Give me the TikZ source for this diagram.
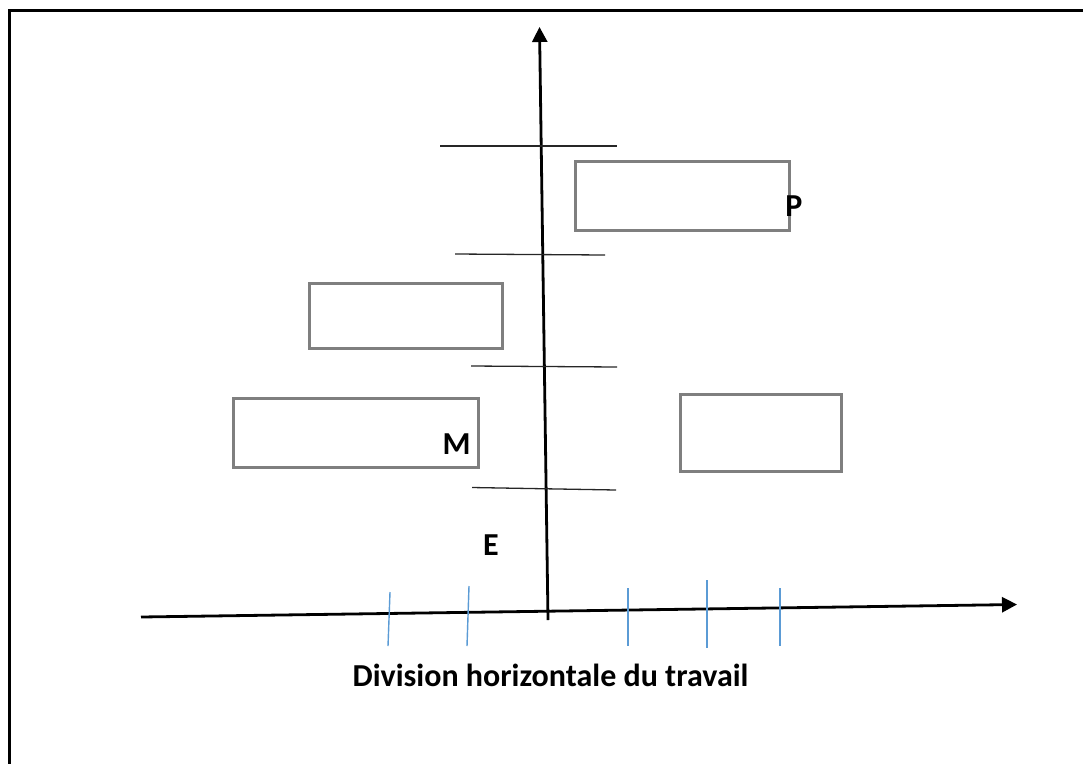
\documentclass[tikz,border=0pt]{standalone}
\usepackage{fontspec}
\setmainfont{Carlito}
\usetikzlibrary{arrows.meta}
\definecolor{boxgray}{HTML}{7F7F7F}
\definecolor{tickblue}{HTML}{5B9BD5}
\tikzset{
  axis/.style={line width=2.8pt, -{Triangle[length=15pt,width=15pt]}},
  level/.style={line width=1.3pt, black!85},
  tickline/.style={line width=1.4pt, tickblue},
  unitbox/.style={draw=boxgray, line width=3pt, inner sep=0pt, outer sep=0pt},
  lab/.style={font=\bfseries\fontsize{32}{36}\selectfont, inner sep=0pt, anchor=base},
}
\begin{document}
\begin{tikzpicture}[x=1pt,y=-1pt]
\useasboundingbox (0,0) rectangle (1083,763);
% outer frame
\draw[line width=3pt] (9,800) -- (9,10.5) -- (1100,10.5);

% axes
\coordinate (xs) at (141,617);
\coordinate (xe) at (1017,604.5);
\coordinate (ys) at (548,620);
\coordinate (ye) at (539.5,27);
\draw[axis] (xs) -- (xe);
\draw[axis] (ys) -- (ye);

% ticks on the horizontal axis
\coordinate (t1a) at (390,592); \coordinate (t1b) at (388,646);
\coordinate (t2a) at (469,586); \coordinate (t2b) at (467,646);
\coordinate (t3a) at (628,588); \coordinate (t3b) at (628,646);
\coordinate (t4a) at (707,580); \coordinate (t4b) at (707,648);
\coordinate (t5a) at (780,588); \coordinate (t5b) at (780,646);
\draw[tickline] (t1a) -- (t1b);
\draw[tickline] (t2a) -- (t2b);
\draw[tickline] (t3a) -- (t3b);
\draw[tickline] (t4a) -- (t4b);
\draw[tickline] (t5a) -- (t5b);

% hierarchical levels across the vertical axis
\coordinate (l1a) at (440,146); \coordinate (l1b) at (617,146);
\coordinate (l2a) at (455,254); \coordinate (l2b) at (605,255);
\coordinate (l3a) at (471,366); \coordinate (l3b) at (617,367);
\coordinate (l4a) at (472,487.5); \coordinate (l4b) at (616,490);
\draw[level] (l1a) -- (l1b);
\draw[level] (l2a) -- (l2b);
\draw[level] (l3a) -- (l3b);
\draw[level] (l4a) -- (l4b);

% units
\node[unitbox, minimum width=214pt, minimum height=69pt] (bp) at (682,195.5) {};
\node[unitbox, minimum width=193pt, minimum height=65pt] (bq) at (405.5,315.5) {};
\node[unitbox, minimum width=245pt, minimum height=69pt] (bm) at (355.5,432.5) {};
\node[unitbox, minimum width=161pt, minimum height=77pt] (br) at (760.5,432.5) {};

% labels
\node[lab] (p) at (794,216) {P};
\node[lab] (m) at (456.5,454) {M};
\node[lab] (e) at (491,555) {E};
\node[lab] (title) at (550.5,686) {Division horizontale du travail};
\end{tikzpicture}
\end{document}
